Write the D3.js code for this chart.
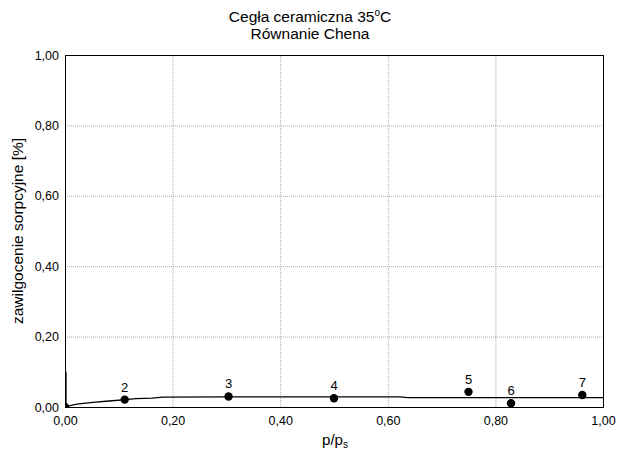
<!DOCTYPE html>
<html>
<head>
<meta charset="utf-8">
<script src="https://cdn.jsdelivr.net/npm/d3@7"></script>
<style>
  body { margin: 0; background: #fff; }
  text { font-family: "Liberation Sans", Arial, sans-serif; }
</style>
</head>
<body>
<svg id="chart" width="619" height="458"></svg>
<script>
// measured points (p/ps, moisture %)
const pointX = [0.0, 0.111, 0.304, 0.5, 0.75, 0.829, 0.9615];
const pointY = [0.0, 0.021, 0.030, 0.025, 0.043, 0.0105, 0.034];
const pointLabels = ["1", "2", "3", "4", "5", "6", "7"];

// fitted Chen curve
const curveX = [0.0, 0.0, 0.002, 0.02, 0.05, 0.08, 0.111, 0.13, 0.16, 0.18, 0.3, 0.5, 0.62, 0.635, 0.8, 1.0];
const curveY = [0.1, 0.0, 0.002, 0.008, 0.013, 0.017, 0.021, 0.024, 0.025, 0.028, 0.029, 0.029, 0.029, 0.0265, 0.0265, 0.0265];

const ticks = [0, 0.2, 0.4, 0.6, 0.8, 1.0];

const margin = { top: 55, right: 16, bottom: 51, left: 65 };
const width = 619 - margin.left - margin.right,
  height = 458 - margin.top - margin.bottom;

const fmt = (d) => d3.format(".2f")(d).replace(".", ",");

const svg = d3.select("#chart");

const x = d3.scaleLinear().domain([0, 1]).range([margin.left, margin.left + width]);
const y = d3.scaleLinear().domain([0, 1]).range([margin.top + height, margin.top]);

// grid
svg.append("g")
  .selectAll("line")
  .data(ticks.slice(1, -1))
  .enter()
  .append("line")
  .attr("x1", (d) => x(d) + 0.5).attr("x2", (d) => x(d) + 0.5)
  .attr("y1", y(0)).attr("y2", y(1))
  .attr("stroke", "#a8a8a8").attr("stroke-width", 1).attr("stroke-dasharray", "1,1");

svg.append("g")
  .selectAll("line")
  .data(ticks.slice(1, -1))
  .enter()
  .append("line")
  .attr("x1", x(0)).attr("x2", x(1))
  .attr("y1", (d) => y(d) + 0.5).attr("y2", (d) => y(d) + 0.5)
  .attr("stroke", "#a8a8a8").attr("stroke-width", 1).attr("stroke-dasharray", "1,1");

// axes (labels only)
svg.append("g")
  .attr("transform", `translate(0,${y(0)})`)
  .call(d3.axisBottom(x).tickValues(ticks).tickSize(0).tickPadding(9).tickFormat(fmt))
  .call((g) => g.select(".domain").remove())
  .call((g) => g.selectAll(".tick text").attr("font-size", 12.5).attr("fill", "#000")
    .style("font-family", "Liberation Sans, Arial, sans-serif"));

svg.append("g")
  .attr("transform", `translate(${x(0)},0)`)
  .call(d3.axisLeft(y).tickValues(ticks).tickSize(0).tickPadding(6).tickFormat(fmt))
  .call((g) => g.select(".domain").remove())
  .call((g) => g.selectAll(".tick text").attr("font-size", 12.5).attr("fill", "#000")
    .style("font-family", "Liberation Sans, Arial, sans-serif"));

// frame
svg.append("rect")
  .attr("x", x(0) + 0.5).attr("y", y(1) + 0.5)
  .attr("width", width).attr("height", height)
  .attr("fill", "none").attr("stroke", "#000").attr("stroke-width", 1);

// clip
svg.append("clipPath").attr("id", "clip")
  .append("rect").attr("x", x(0)).attr("y", y(1)).attr("width", width + 1).attr("height", height + 1);

const curve = curveX.map((d, i) => [d, curveY[i]]);
svg.append("path")
  .datum(curve)
  .attr("clip-path", "url(#clip)")
  .attr("fill", "none")
  .attr("stroke", "#000")
  .attr("stroke-width", 1.3)
  .attr("transform", "translate(1,0)")
  .attr("d", d3.line().x((d) => x(d[0])).y((d) => y(d[1])));

const pts = pointX.map((d, i) => ({ x: d, y: pointY[i], label: pointLabels[i] }));
svg.append("g")
  .attr("clip-path", "url(#clip)")
  .selectAll("circle")
  .data(pts)
  .enter()
  .append("circle")
  .attr("cx", (d) => x(d.x)).attr("cy", (d) => y(d.y))
  .attr("r", 4.2).attr("fill", "#000");

svg.append("g")
  .selectAll("text")
  .data(pts.filter((d) => d.x > 0))
  .enter()
  .append("text")
  .attr("x", (d) => x(d.x))
  .attr("y", (d) => y(d.y) - 8)
  .attr("text-anchor", "middle")
  .attr("font-size", 13)
  .text((d) => d.label);

// title
const title = svg.append("text").attr("x", 310).attr("y", 22)
  .attr("text-anchor", "middle").attr("font-size", 15.5);
title.append("tspan").text("Cegła ceramiczna 35");
title.append("tspan").attr("font-size", 10).attr("dy", -6).text("o");
title.append("tspan").attr("dy", 6).text("C");

svg.append("text").attr("x", 310).attr("y", 39)
  .attr("text-anchor", "middle").attr("font-size", 15.5)
  .text("Równanie Chena");

// axis titles
const xl = svg.append("text").attr("x", 335).attr("y", 445)
  .attr("text-anchor", "middle").attr("font-size", 15);
xl.append("tspan").text("p/p");
xl.append("tspan").attr("font-size", 10).attr("dy", 3).text("s");

svg.append("text")
  .attr("transform", `translate(23,${y(0.5)}) rotate(-90)`)
  .attr("text-anchor", "middle").attr("font-size", 15.5)
  .text("zawilgocenie sorpcyjne [%]");
</script>
</body>
</html>
